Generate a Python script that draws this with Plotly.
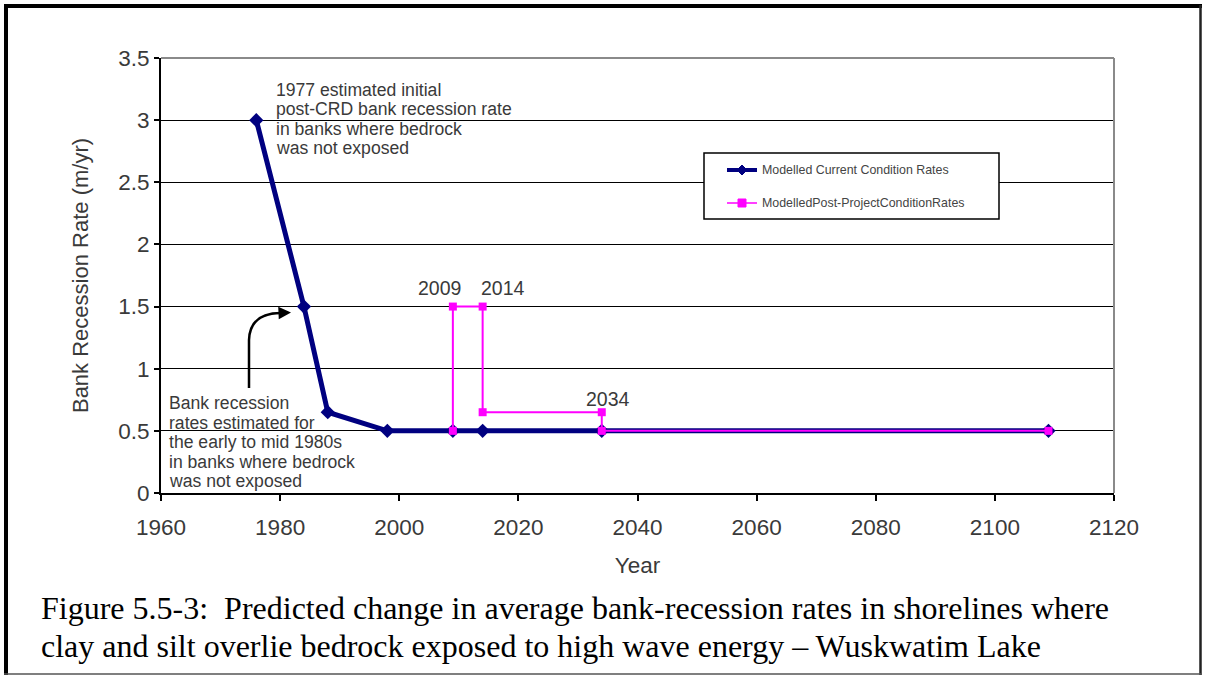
import plotly.graph_objects as go

# ---- data ----
years_current = [1976, 1984, 1988, 1998, 2009, 2014, 2034, 2109]
rate_current = [3.0, 1.5, 0.65, 0.5, 0.5, 0.5, 0.5, 0.5]
years_post = [2009, 2009, 2014, 2014, 2034, 2034, 2109]
rate_post = [0.5, 1.5, 1.5, 0.65, 0.65, 0.5, 0.5]
label_idx = [1, 2, 4]   # points of the post-project series that carry year labels
name_current = "Modelled Current Condition Rates"
name_post = "ModelledPost-ProjectConditionRates"
x_ticks = [1960, 1980, 2000, 2020, 2040, 2060, 2080, 2100, 2120]
y_ticks = [0, 0.5, 1, 1.5, 2, 2.5, 3, 3.5]

W, H = 1206, 675
L, R, T, B = 161, 1114, 58, 493   # plot area in pixels
SANS = "Liberation Sans, Arial, sans-serif"
SERIF = "Liberation Serif, Times New Roman, serif"
NAVY = "#000080"
MAG = "#FF00FF"
TXT = "#3a3a3a"


def X(px):
    return (px - L) / (R - L)


def Y(py):
    return (B - py) / (B - T)


fig = go.Figure()
fig.add_trace(go.Scatter(x=years_current, y=rate_current, mode="lines+markers",
                         name=name_current, showlegend=False, cliponaxis=False,
                         line=dict(color=NAVY, width=5),
                         marker=dict(symbol="diamond", size=11, color=NAVY)))
fig.add_trace(go.Scatter(x=years_post, y=rate_post, mode="lines+markers",
                         name=name_post, showlegend=False, cliponaxis=False,
                         line=dict(color=MAG, width=2),
                         marker=dict(symbol="square", size=8, color=MAG)))

shapes = []
ann = []

# plot border top/right (gray)
shapes.append(dict(type="line", xref="paper", yref="paper", x0=0, x1=1, y0=1, y1=1,
                   line=dict(color="#8a8a8a", width=2), layer="above"))
shapes.append(dict(type="line", xref="paper", yref="paper", x0=1, x1=1, y0=0, y1=1,
                   line=dict(color="#8a8a8a", width=2), layer="above"))

# outer frame
shapes.append(dict(type="line", xref="paper", yref="paper", x0=X(6), x1=X(6), y0=Y(4), y1=Y(676),
                   line=dict(color="black", width=4)))
shapes.append(dict(type="line", xref="paper", yref="paper", x0=X(4), x1=X(1202), y0=Y(6), y1=Y(6),
                   line=dict(color="black", width=4)))
shapes.append(dict(type="line", xref="paper", yref="paper", x0=X(1200.5), x1=X(1200.5), y0=Y(5), y1=Y(676),
                   line=dict(color="#222222", width=2.5)))
shapes.append(dict(type="line", xref="paper", yref="paper", x0=X(4), x1=X(1202), y0=Y(674), y1=Y(674),
                   line=dict(color="#555555", width=1.5)))

# legend box (manual)
shapes.append(dict(type="rect", xref="paper", yref="paper", x0=X(704), x1=X(999), y0=Y(219), y1=Y(153),
                   line=dict(color="black", width=1.5), fillcolor="white", layer="above"))
ly1, ly2 = 170, 203
shapes.append(dict(type="line", xref="paper", yref="paper", x0=X(727), x1=X(757), y0=Y(ly1), y1=Y(ly1),
                   line=dict(color=NAVY, width=4), layer="above"))
shapes.append(dict(type="path", xref="paper", yref="paper", layer="above",
                   path=f"M {X(742)},{Y(ly1-5)} L {X(747)},{Y(ly1)} L {X(742)},{Y(ly1+5)} L {X(737)},{Y(ly1)} Z",
                   fillcolor=NAVY, line=dict(color=NAVY, width=1)))
shapes.append(dict(type="line", xref="paper", yref="paper", x0=X(727), x1=X(757), y0=Y(ly2), y1=Y(ly2),
                   line=dict(color=MAG, width=1.5), layer="above"))
shapes.append(dict(type="rect", xref="paper", yref="paper", layer="above",
                   x0=X(738), x1=X(746), y0=Y(ly2+4), y1=Y(ly2-4),
                   fillcolor=MAG, line=dict(color=MAG, width=1)))
for txt, yy in [(name_current, ly1), (name_post, ly2)]:
    ann.append(dict(xref="paper", yref="paper", x=X(760), y=Y(yy), text=txt, showarrow=False,
                    xanchor="left", yanchor="middle", font=dict(family=SANS, size=12.4, color="#444444")))

# curved arrow
shapes.append(dict(type="path", xref="paper", yref="paper",
                   path=f"M {X(249)},{Y(388)} L {X(249)},{Y(340)} Q {X(250)},{Y(313)} {X(281)},{Y(313)}",
                   line=dict(color="black", width=2.5)))
ann.append(dict(xref="paper", yref="paper", x=X(291), y=Y(312.5), ax=-12, ay=0.5, text="",
                showarrow=True, arrowhead=2, arrowsize=1, arrowwidth=2.5, arrowcolor="black"))

# text annotations
lines1 = ["1977 estimated initial", "post-CRD bank recession rate",
          "in banks where bedrock", "was not exposed"]
for i, t in enumerate(lines1):
    ann.append(dict(xref="paper", yref="paper", x=X(274), y=Y(90 + 19.3 * i), text=t, showarrow=False,
                    xanchor="left", yanchor="middle", font=dict(family=SANS, size=17.6, color=TXT)))
lines2 = ["Bank recession", "rates estimated for", "the early to mid 1980s",
          "in banks where bedrock", "was not exposed"]
for i, t in enumerate(lines2):
    ann.append(dict(xref="paper", yref="paper", x=X(167), y=Y(403 + 19.5 * i), text=t, showarrow=False,
                    xanchor="left", yanchor="middle", font=dict(family=SANS, size=17.6, color=TXT)))

shifts = [(-13, 19), (20, 19), (6, 13)]
for k, (dx, dy) in zip(label_idx, shifts):
    ann.append(dict(x=years_post[k], y=rate_post[k], text=str(years_post[k]), showarrow=False,
                    xshift=dx, yshift=dy, font=dict(family=SANS, size=19.5, color=TXT)))

# caption
cap = ["Figure 5.5-3:  Predicted change in average bank-recession rates in shorelines where",
       "clay and silt overlie bedrock exposed to high wave energy \u2013 Wuskwatim Lake"]
for i, t in enumerate(cap):
    ann.append(dict(xref="paper", yref="paper", x=X(39), y=Y(608 + 38 * i), text=t, showarrow=False,
                    xanchor="left", yanchor="middle", font=dict(family=SERIF, size=32, color="black")))

fig.update_layout(
    width=W, height=H,
    margin=dict(l=L, r=W - R, t=T, b=H - B),
    paper_bgcolor="white", plot_bgcolor="white",
    shapes=shapes, annotations=ann, showlegend=False,
    xaxis=dict(range=[1960, 2120], tickvals=x_ticks, ticktext=[str(v) for v in x_ticks],
               showgrid=False, zeroline=False, showline=True, linecolor="black", linewidth=2,
               ticks="outside", ticklen=6, tickwidth=1.5, tickcolor="black",
               ticklabelstandoff=7,
               tickfont=dict(family=SANS, size=22.5, color=TXT),
               title=dict(text="Year", font=dict(family=SANS, size=22.5, color=TXT), standoff=18)),
    yaxis=dict(range=[0, 3.5], tickvals=y_ticks, ticktext=[f"{v:g}" for v in y_ticks],
               showgrid=True, gridcolor="black", gridwidth=1, zeroline=False,
               showline=True, linecolor="black", linewidth=2,
               ticks="outside", ticklen=5, tickwidth=1.5, tickcolor="black",
               tickfont=dict(family=SANS, size=22.5, color=TXT),
               title=dict(text="Bank Recession Rate (m/yr)", font=dict(family=SANS, size=22, color=TXT),
                          standoff=24)),
)

fig.write_html("out.html")
